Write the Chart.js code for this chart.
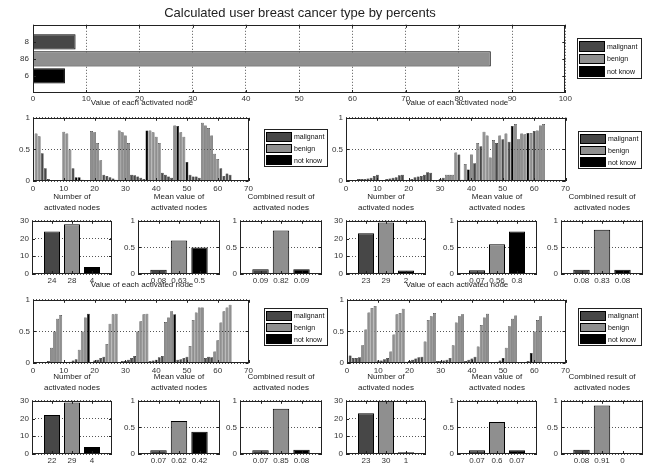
<!DOCTYPE html>
<html>
<head>
<meta charset="utf-8">
<script src="https://cdn.jsdelivr.net/npm/chart.js@4.4.0/dist/chart.umd.min.js"></script>
<style>
  body { margin: 0; width: 654px; height: 463px; position: relative; overflow: hidden; background: #fff;
         font-family: "Liberation Sans", Arial, sans-serif; color: #222; }
  canvas { position: absolute; }
  .t { position: absolute; white-space: nowrap; transform: translate(-50%, -50%); line-height: 1; will-change: transform; }
  .lg { position: absolute; border: 1px solid #222; background: #fff; box-sizing: border-box; will-change: transform; }
  .row { display: flex; align-items: center; }
  .sw { width: 26px; border: 1px solid #000; box-sizing: border-box; margin: 0 2px 0 1px; }
  .row span { font-size: 7px; color: #111; }
</style>
</head>
<body>
<script>
// ---- data ----
const classNames = ["malignant", "benign", "not know"];
const classColors = ["#474747", "#8f8f8f", "#000000"];

// top summary (percent per class)
const topValues = [8, 86, 6];

// value of each activated node (node 1..64), class 0=malignant 1=benign 2=not know
const tlValues = [0.75,0.71,0.44,0.2,0.03,0.01,0,0,0,
  0.78,0.75,0.5,0.2,0.06,0.06,0.02,0,0,
  0.79,0.77,0.6,0.33,0.1,0.08,0.06,0.04,0.02,
  0.8,0.77,0.72,0.6,0.1,0.09,0.07,0.05,0.03,
  0.8,0.8,0.77,0.7,0.6,0.13,0.1,0.07,0.05,
  0.88,0.87,0.77,0.7,0.3,0.1,0.07,0.07,0.05,
  0.92,0.88,0.84,0.72,0.43,0.35,0.2,0.08,0.12,0.1];
const tlClass = [1,1,0,0,0,0,0,0,0,
  1,1,1,0,2,2,0,0,0,
  1,1,1,1,0,0,0,0,0,
  1,1,1,1,0,0,0,0,0,
  2,1,1,1,1,0,0,0,0,
  1,2,1,1,2,0,0,0,0,
  1,1,1,1,1,1,0,0,0,0];

const trValues = [0,0,0,0.03,0.03,0.03,0.04,0.05,0.08,0.1,
  0,0,0.03,0.04,0.05,0.06,0.09,0.1,0,0,
  0.03,0.06,0.07,0.08,0.1,0.14,0.13,0,0,0.03,
  0.05,0.1,0.1,0.1,0.45,0.42,0.02,0.27,0.18,0.42,
  0.28,0.6,0.55,0.78,0.72,0.37,0.65,0.6,0.72,0.66,
  0.75,0.62,0.87,0.9,0.66,0.75,0.74,0.76,0.76,0.79,
  0.8,0.88,0.9,0];
const trClass = [0,0,0,0,0,0,0,0,0,0,
  0,0,0,0,0,0,0,0,0,0,
  0,0,0,0,0,0,0,0,0,0,
  0,1,1,1,1,0,2,1,2,1,
  0,1,0,1,1,1,1,0,1,0,
  1,0,2,1,1,1,1,2,1,0,
  1,1,1,0];

const blValues = [0.008,0.008,0.008,0.008,0.03,0.24,0.5,0.7,0.76,0,
  0.008,0.02,0.04,0.06,0.21,0.5,0.72,0.78,0,0.04,
  0.05,0.08,0.1,0.3,0.62,0.77,0.78,0,0.03,0.03,
  0.05,0.08,0.11,0.5,0.66,0.77,0.78,0.03,0.04,0.05,
  0.09,0.11,0.65,0.72,0.82,0.77,0.05,0.06,0.08,0.1,
  0.27,0.68,0.8,0.88,0.88,0.08,0.1,0.09,0.18,0.36,
  0.64,0.82,0.88,0.92];
const blClass = [0,0,0,0,0,1,1,1,1,0,
  0,0,0,0,1,1,1,2,0,0,
  0,0,0,1,1,1,1,0,0,0,
  0,0,0,1,1,1,1,0,0,0,
  0,0,1,1,1,2,0,0,0,0,
  1,1,1,1,1,0,0,0,1,1,
  1,1,1,1];

const brValues = [0.12,0.08,0.08,0.09,0.28,0.53,0.8,0.87,0.9,0.04,
  0.04,0.06,0.08,0.18,0.45,0.77,0.79,0.86,0.02,0.03,
  0.05,0.07,0.09,0.1,0.34,0.68,0.74,0.79,0.03,0.03,
  0.04,0.05,0.08,0.28,0.64,0.74,0.77,0.03,0.05,0.07,
  0.1,0.26,0.6,0.72,0.78,0,0,0.02,0.04,0.08,
  0.24,0.58,0.7,0.75,0,0,0,0.03,0.16,0.5,
  0.68,0.74,0,0];
const brClass = [0,0,0,0,1,1,1,1,1,0,
  0,0,0,1,1,1,1,1,0,0,
  0,0,0,0,1,1,1,1,0,0,
  0,0,0,1,1,1,1,0,0,0,
  0,1,1,1,1,0,0,0,0,2,
  1,1,1,1,0,0,0,0,2,1,
  1,1,0,0];

// per quadrant: number of activated nodes, mean value, combined result
const q1Counts = [24, 28, 4],  q1Mean = [0.08, 0.63, 0.5],  q1Comb = [0.09, 0.82, 0.09];
const q2Counts = [23, 29, 2],  q2Mean = [0.07, 0.56, 0.8],  q2Comb = [0.08, 0.83, 0.08];
const q3Counts = [22, 29, 4],  q3Mean = [0.07, 0.62, 0.42], q3Comb = [0.07, 0.85, 0.08];
const q4Counts = [23, 30, 1],  q4Mean = [0.07, 0.6, 0.07],  q4Comb = [0.08, 0.91, 0];

// ---- setup ----
Chart.defaults.font.family = '"Liberation Sans", Arial, sans-serif';
Chart.defaults.font.size = 8;
Chart.defaults.color = "#333";

// matlab style box with inward ticks on all sides
Chart.register({
  id: "frame",
  afterDraw(chart) {
    const { ctx, chartArea: a, scales } = chart;
    ctx.save();
    ctx.strokeStyle = "#222";
    ctx.lineWidth = 1;
    ctx.strokeRect(Math.round(a.left) + 0.5, Math.round(a.top) + 0.5, Math.round(a.width) - 1, Math.round(a.height) - 1);
    ["x", "y"].forEach((id) => {
      const s = scales[id];
      s.ticks.forEach((t) => {
        const p = Math.round(s.getPixelForValue(t.value)) + 0.5;
        ctx.beginPath();
        if (id === "x") {
          ctx.moveTo(p, a.bottom); ctx.lineTo(p, a.bottom - 3);
          ctx.moveTo(p, a.top); ctx.lineTo(p, a.top + 3);
        } else {
          ctx.moveTo(a.left, p); ctx.lineTo(a.left + 3, p);
          ctx.moveTo(a.right, p); ctx.lineTo(a.right - 3, p);
        }
        ctx.stroke();
      });
    });
    ctx.restore();
  },
});

const PAD_L = 28, PAD_B = 14, PAD_T = 6, PAD_R = 6;

// box = [left, top, right, bottom] of the plot area on the page
function addChart(box, cfg) {
  const cv = document.createElement("canvas");
  cv.width = box[2] - box[0] + PAD_L + PAD_R;
  cv.height = box[3] - box[1] + PAD_T + PAD_B;
  cv.style.left = box[0] - PAD_L + "px";
  cv.style.top = box[1] - PAD_T + "px";
  document.body.appendChild(cv);
  cfg.options = Object.assign({
    responsive: false,
    animation: false,
    layout: { padding: { top: PAD_T, right: PAD_R, left: 0, bottom: 0 } },
    plugins: { legend: { display: false }, tooltip: { enabled: false } },
  }, cfg.options);
  return new Chart(cv, cfg);
}

function axis(min, max, step, showGrid, extra) {
  return Object.assign({
    type: "linear",
    min: min,
    max: max,
    offset: false,
    ticks: { stepSize: step, padding: 3, maxRotation: 0, autoSkip: false, callback: (v) => String(v) },
    grid: { display: showGrid, color: "#555", drawTicks: false, offset: false },
    border: { display: false, dash: [1, 2] },
  }, extra);
}

function fixX(s) { s.height = PAD_B; }
function fixY(s) { s.width = PAD_L; }

function text(str, cx, cy, size) {
  const d = document.createElement("div");
  d.className = "t";
  d.textContent = str;
  d.style.left = cx + "px";
  d.style.top = cy + "px";
  d.style.fontSize = size + "px";
  document.body.appendChild(d);
}

function legend(x, y, w, h) {
  const d = document.createElement("div");
  d.className = "lg";
  Object.assign(d.style, { left: x + "px", top: y + "px", width: w + "px", height: h + "px", paddingTop: "1px" });
  const rowH = (h - 3) / 3;
  classNames.forEach((name, i) => {
    const r = document.createElement("div");
    r.className = "row";
    r.style.height = rowH + "px";
    const sw = document.createElement("div");
    sw.className = "sw";
    sw.style.height = rowH - 2 + "px";
    sw.style.background = classColors[i];
    const lab = document.createElement("span");
    lab.textContent = name;
    r.appendChild(sw);
    r.appendChild(lab);
    d.appendChild(r);
  });
  document.body.appendChild(d);
}

// ---- top chart ----
text("Calculated user breast cancer type by percents", 300, 12, 13);
addChart([33, 22, 567, 93], {
  type: "bar",
  data: {
    datasets: [{
      data: topValues.map((v, i) => ({ x: v, y: i + 1 })),
      backgroundColor: classColors,
      borderColor: "#000",
      borderWidth: 1,
      barPercentage: 0.9,
      categoryPercentage: 1,
    }],
  },
  options: {
    indexAxis: "y",
    scales: {
      x: axis(0, 100, 10, true, { afterFit: fixX, ticks: { stepSize: 10, padding: 1, maxRotation: 0, autoSkip: false } }),
      y: axis(0, 4, 1, false, {
        reverse: true,
        afterFit: fixY,
        afterBuildTicks: (s) => { s.ticks = topValues.map((v, i) => ({ value: i + 1 })); },
        ticks: { padding: 4, autoSkip: false, callback: (v) => String(topValues[v - 1]) },
      }),
    },
  },
});
legend(577, 38, 65, 41);

// ---- node charts ----
function nodeChart(box, values, classes) {
  const pts = [], cols = [];
  values.forEach((v, i) => {
    if (v > 0) { pts.push({ x: i + 1, y: v }); cols.push(classColors[classes[i]]); }
  });
  text("Value of each activated node", (box[0] + box[2]) / 2, box[1] - 13, 8);
  addChart(box, {
    type: "bar",
    data: {
      datasets: [{
        data: pts,
        backgroundColor: cols,
        borderColor: "#000",
        borderWidth: 0.5,
        barPercentage: 0.92,
        categoryPercentage: 1,
      }],
    },
    options: {
      scales: {
        x: axis(0, 70, 10, false, { afterFit: fixX }),
        y: axis(0, 1, 0.5, true, { afterFit: fixY }),
      },
    },
  });
}

// ---- small summary charts ----
function smallChart(box, values, max, step, title) {
  text(title, (box[0] + box[2]) / 2, box[1] - 22, 8);
  text("activated nodes", (box[0] + box[2]) / 2, box[1] - 11, 8);
  addChart(box, {
    type: "bar",
    data: {
      datasets: [{
        data: values.map((v, i) => ({ x: i + 1, y: v })),
        backgroundColor: classColors,
        borderColor: "#000",
        borderWidth: 1,
        barPercentage: 0.8,
        categoryPercentage: 1,
      }],
    },
    options: {
      scales: {
        x: axis(0, 4, 1, false, {
          afterFit: fixX,
          afterBuildTicks: (s) => { s.ticks = values.map((v, i) => ({ value: i + 1 })); },
          ticks: { padding: 2, autoSkip: false, maxRotation: 0, callback: (v) => String(values[v - 1]) },
        }),
        y: axis(0, max, step, true, { afterFit: fixY }),
      },
    },
  });
}

function quadrant(nodeBox, legendPos, smallBoxes, smallY, values, classes, counts, mean, comb) {
  nodeChart(nodeBox, values, classes);
  legend(legendPos[0], legendPos[1], 64, 38);
  smallChart([smallBoxes[0][0], smallY[0], smallBoxes[0][1], smallY[1]], counts, 30, 10, "Number of");
  smallChart([smallBoxes[1][0], smallY[0], smallBoxes[1][1], smallY[1]], mean, 1, 0.5, "Mean value of");
  smallChart([smallBoxes[2][0], smallY[0], smallBoxes[2][1], smallY[1]], comb, 1, 0.5, "Combined result of");
}

const leftCols = [[32, 112], [138, 220], [240, 322]];
const rightCols = [[346, 426], [457, 537], [561, 643]];

quadrant([33, 116, 250, 181], [264, 129], leftCols, [219, 274], tlValues, tlClass, q1Counts, q1Mean, q1Comb);
quadrant([346, 116, 567, 181], [578, 131], rightCols, [219, 274], trValues, trClass, q2Counts, q2Mean, q2Comb);
quadrant([33, 298, 250, 363], [264, 308], leftCols, [399, 454], blValues, blClass, q3Counts, q3Mean, q3Comb);
quadrant([347, 298, 567, 363], [578, 308], rightCols, [399, 454], brValues, brClass, q4Counts, q4Mean, q4Comb);
</script>
</body>
</html>
